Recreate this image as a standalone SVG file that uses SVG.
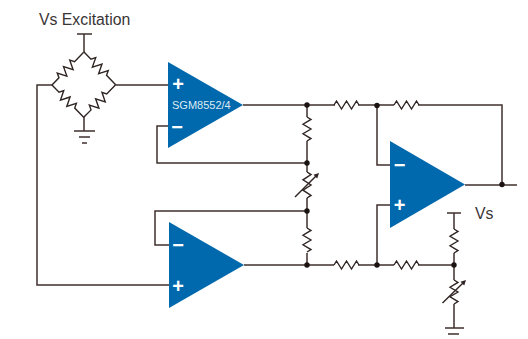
<svg xmlns="http://www.w3.org/2000/svg" width="528" height="339" viewBox="0 0 528 339">
<style>
.w{fill:none;stroke:#40312f;stroke-width:1.5;stroke-linejoin:miter}
.r{fill:none;stroke:#2e2422;stroke-width:1.4}
.a{fill:#0068ac}
.n{fill:#1a1311}
.t{font-family:"Liberation Sans",Arial,sans-serif;font-size:15.8px;fill:#3a3535}
.s{font-family:"Liberation Sans",Arial,sans-serif;fill:#dfeaf4;font-size:11px}
.p{font-family:"Liberation Sans",Arial,sans-serif;fill:#fff;font-size:20px;font-weight:bold;text-anchor:middle}
</style>
<defs>
<path id="rh" class="r" d="M0 0l2.500-4 5 8 5-8 5 8 5-8 2.500 4"/>
<path id="rb" class="r" d="M0 0H10l2.200-4.500 4.500 9 4.500-9 4.500 9 4.500-9 2.200 4.500H45.500"/>
<path id="arrow" fill="#2e2422" d="M0 0l-5.500 1.800 3.700 3.700z"/>
</defs>
<rect width="528" height="339" fill="#fff"/>
<g id="connectors">
<path class="w" d="M77 34H92M84 34V52M84 117V131M74 131H95M79 137H90M82 143H87"/>
<path class="w" d="M52 85H37V285H169M116 85H168"/>
<path class="w" d="M168 126H157V163H307M243 105H335M358 105H394M418 105H502V185M465 185H517"/>
<path class="w" d="M377 105V165H390M390 205H377V265"/>
<path class="w" d="M169 245H155V211H307M244 265H334M358 265H394M418 265H454"/>
<path class="w" d="M307 105V117M307 141V172M307 198V228M307 253V265"/>
<path class="w" d="M447 213H461M454 213V229M454 253V280M454 304V328M445 328H464M448 334H459"/>
</g>
<g id="bridge">
<use href="#rb" transform="translate(52,85) rotate(-45.900)"/>
<use href="#rb" transform="translate(84,52) rotate(45.900)"/>
<use href="#rb" transform="translate(52,85) rotate(45.500)"/>
<use href="#rb" transform="translate(84,117) rotate(-45.500)"/>
</g>
<g id="resistors">
<use href="#rh" transform="translate(334,105)"/>
<use href="#rh" transform="translate(394,105)"/>
<use href="#rh" transform="translate(334,265)"/>
<use href="#rh" transform="translate(394,265)"/>
<use href="#rh" transform="translate(307,117) rotate(90) scale(.96,1)"/>
<use href="#rh" transform="translate(307,228) rotate(90) scale(.96,1)"/>
<use href="#rh" transform="translate(454,229) rotate(90) scale(.96,1)"/>
</g>
<g id="pot1">
<use href="#rh" transform="translate(307,172) rotate(90) scale(1.040,1)"/>
<path class="r" d="M295 197L316 176"/>
<use href="#arrow" transform="translate(319,173)"/>
</g>
<g id="pot2">
<use href="#rh" transform="translate(454,280) rotate(90) scale(.96,1)"/>
<path class="r" d="M442.500 303L463 283"/>
<use href="#arrow" transform="translate(466,280)"/>
</g>
<g id="nodes">
<circle class="n" cx="307" cy="105" r="2.700"/>
<circle class="n" cx="377" cy="105.500" r="2.700"/>
<circle class="n" cx="307" cy="163" r="2.700"/>
<circle class="n" cx="307" cy="211" r="2.700"/>
<circle class="n" cx="307" cy="265" r="2.700"/>
<circle class="n" cx="377" cy="265" r="2.700"/>
<circle class="n" cx="454" cy="265" r="2.700"/>
<circle class="n" cx="502" cy="184.500" r="2.700"/>
</g>
<g id="amp1">
<path class="a" d="M168 62L243 105L168 148Z"/>
<text class="p" x="178" y="91">+</text>
<text class="p" x="177" y="134">−</text>
<text class="s" x="172" y="109">SGM8552/4</text>
</g>
<g id="amp2">
<path class="a" d="M169 222L244 265L169 308Z"/>
<text class="p" x="178" y="252">−</text>
<text class="p" x="178" y="293">+</text>
</g>
<g id="amp3">
<path class="a" d="M390 141L465 184.500L390 228Z"/>
<text class="p" x="399.500" y="172">−</text>
<text class="p" x="399.500" y="212">+</text>
</g>
<g id="labels">
<text class="t" x="39" y="24.500">Vs Excitation</text>
<text class="t" x="475" y="219">Vs</text>
</g>
</svg>
